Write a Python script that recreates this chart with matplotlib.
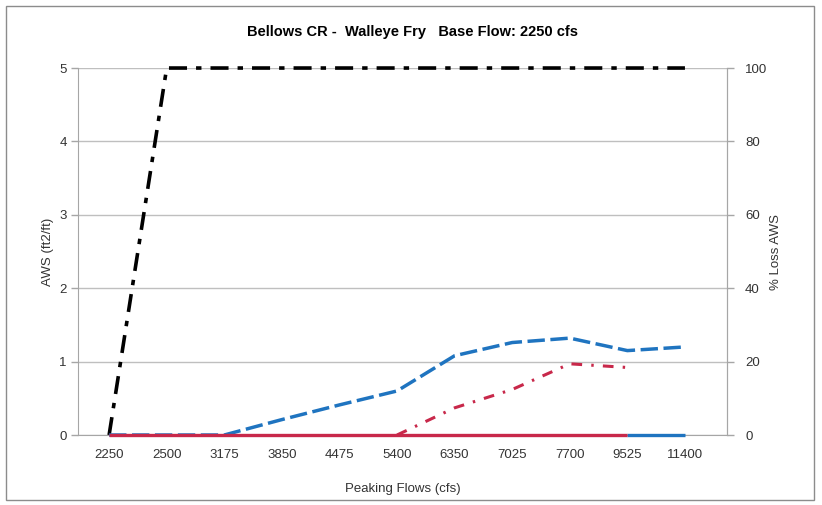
import numpy as np
import matplotlib.pyplot as plt
from matplotlib.patches import Rectangle

plt.rcParams['font.family'] = ['Liberation Sans', 'DejaVu Sans']

# Peaking flow categories (cfs)
flows = ["2250", "2500", "3175", "3850", "4475", "5400", "6350", "7025", "7700", "9525", "11400"]

# AWS (ft2/ft), left axis
aws_blue = [0, 0, 0, 0.21, 0.41, 0.60, 1.08, 1.26, 1.32, 1.15, 1.20]
aws_red = [np.nan, np.nan, np.nan, np.nan, np.nan, 0, 0.37, 0.62, 0.97, 0.92, np.nan]
zero_red = [0, 0, 0, 0, 0, 0, 0, 0, 0, 0, np.nan]
zero_blue = [np.nan, np.nan, np.nan, np.nan, np.nan, np.nan, np.nan, np.nan, np.nan, 0, 0]

# % Loss AWS, right axis
loss = [0, 100, 100, 100, 100, 100, 100, 100, 100, 100, 100]

x = np.arange(len(flows))
blue = "#1f74c0"
red = "#c8284a"
grey = "#a6a6a6"

fig = plt.figure(figsize=(8.22, 5.05), dpi=100)
ax = fig.add_axes([0.0949, 0.1386, 0.7895, 0.7267])
ax2 = ax.twinx()

ax.set_xlim(-0.54, 10.73)
ax.set_ylim(0, 5)
ax2.set_ylim(0, 100)

ax.yaxis.grid(True, color="#bfbfbf", lw=1)
ax.set_axisbelow(True)

# black % loss line first (right axis), AWS lines drawn on top
ax2.plot(x, loss, color="black", lw=2.6, dashes=(5, 2.5, 1.5, 2.5), clip_on=False, zorder=1)
ax2.plot(x, aws_blue, color=blue, lw=2.5, dashes=(5, 1.6), clip_on=False, zorder=3,
         transform=ax.transData)
ax2.plot(x, aws_red, color=red, lw=2.2, dashes=(3.5, 3, 0.8, 3), clip_on=False, zorder=3,
         transform=ax.transData)
ax2.plot(x, zero_blue, color=blue, lw=2.4, solid_capstyle="butt", clip_on=False, zorder=4,
         transform=ax.transData)
ax2.plot(x, zero_red, color=red, lw=2.4, solid_capstyle="butt", clip_on=False, zorder=4,
         transform=ax.transData)
ax2.set_ylim(0, 100)

ax.set_xticks(x)
ax.set_xticklabels(flows)
ax.set_yticks([0, 1, 2, 3, 4, 5])
ax2.set_yticks([0, 20, 40, 60, 80, 100])

for a in (ax, ax2):
    for s in a.spines.values():
        s.set_color(grey)
    a.spines["top"].set_visible(False)
    a.tick_params(colors=grey, labelcolor="#333333", labelsize=9.5, length=5, width=1)
ax2.spines["bottom"].set_visible(False)
ax2.spines["left"].set_visible(False)
ax.tick_params(axis="x", length=0, pad=10)
ax.tick_params(axis="y", pad=3)
ax2.tick_params(axis="y", pad=8)

ax.set_xlabel("Peaking Flows (cfs)", fontsize=9.5, color="#333333", labelpad=16)
ax.set_ylabel("AWS (ft2/ft)", fontsize=9.5, color="#333333", labelpad=4)
ax2.set_ylabel("% Loss AWS", fontsize=9.5, color="#333333", rotation=90, labelpad=2)

fig.text(0.502, 0.937, "Bellows CR -  Walleye Fry   Base Flow: 2250 cfs",
         ha="center", va="center", fontsize=10.5, fontweight="bold", color="black")

fig.patches.append(Rectangle((6 / 822, 5 / 505), 808 / 822, 494 / 505,
                             transform=fig.transFigure, fill=False,
                             edgecolor="#8c8c8c", lw=1))

fig.savefig("out.png", dpi=100)
